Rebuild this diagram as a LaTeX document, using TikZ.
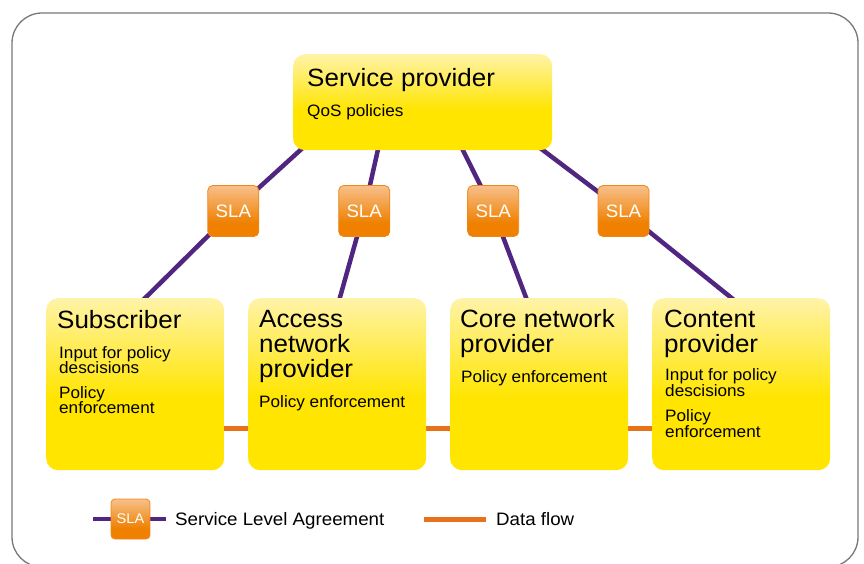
\documentclass[tikz,border=0pt]{standalone}
\usepackage{fontspec}
\setmainfont[FakeStretch=1.04]{Liberation Sans}
\usetikzlibrary{calc,backgrounds}

\definecolor{yelfull}{RGB}{255,229,0}
\definecolor{yelpale}{RGB}{255,243,168}
\definecolor{slatop}{RGB}{247,192,138}
\definecolor{slabot}{RGB}{239,128,0}
\definecolor{slaedge}{RGB}{238,135,30}
\definecolor{slaline}{RGB}{80,38,128}
\definecolor{flowline}{RGB}{232,114,26}
\definecolor{framegray}{RGB}{120,120,120}

% vertical fills: full colour at the bottom, paler towards the top
\pgfdeclareverticalshading{yelshade}{100bp}{color(0bp)=(yelfull); color(46bp)=(yelfull); color(75bp)=(yelpale); color(100bp)=(yelpale)}
\pgfdeclareverticalshading{orashade}{100bp}{color(0bp)=(slabot); color(38bp)=(slabot); color(75bp)=(slatop); color(100bp)=(slatop)}

\tikzset{
  panel/.style={shade, shading=yelshade, rounded corners=12pt, inner sep=0pt, anchor=north west},
  slabox/.style={shade, shading=orashade, draw=slaedge, line width=0.8pt, rounded corners=5pt,
    inner sep=0pt, minimum width=51pt, minimum height=51pt, text=white,
    font=\fontsize{18}{18}\selectfont},
  slalink/.style={draw=slaline, line width=4.5pt},
  flow/.style={draw=flowline, line width=5pt},
  titletxt/.style={anchor=base west, inner sep=0pt, font=\fontsize{25}{25}\selectfont},
  bodytxt/.style={anchor=base west, inner sep=0pt, font=\fontsize{16.5}{16.5}\selectfont},
  legendtxt/.style={anchor=base west, inner sep=0pt, font=\fontsize{18}{18}\selectfont},
}

\begin{document}
\begin{tikzpicture}[x=1pt,y=-1pt]
\useasboundingbox (0,0) rectangle (864,563);

% boxes
\node[panel, minimum width=259pt, minimum height=96pt]  (sp)   at (293,54)  {};
\node[panel, minimum width=178pt, minimum height=172pt] (sub)  at (46,298)  {};
\node[panel, minimum width=178pt, minimum height=172pt] (acc)  at (248,298) {};
\node[panel, minimum width=178pt, minimum height=172pt] (core) at (450,298) {};
\node[panel, minimum width=178pt, minimum height=172pt] (cont) at (652,298) {};

% agreements
\node[slabox] (sla1) at (233.3,211) {SLA};
\node[slabox] (sla2) at (364.2,211) {SLA};
\node[slabox] (sla3) at (493.2,211) {SLA};
\node[slabox] (sla4) at (623.5,211) {SLA};

% link ends, tucked inside the boxes
\coordinate (sp-a) at ($(sp.south west)+(18,-10)$);
\coordinate (sp-b) at ($(sp.south west)+(87,-10)$);
\coordinate (sp-c) at ($(sp.south west)+(165,-10)$);
\coordinate (sp-d) at ($(sp.south west)+(237,-10)$);
\coordinate (sub-a)  at ($(sub.north west)+(89,10)$);
\coordinate (acc-a)  at ($(acc.north west)+(89,10)$);
\coordinate (core-a) at ($(core.north west)+(80,10)$);
\coordinate (cont-a) at ($(cont.north west)+(92,10)$);

% legend
\node[slabox, minimum width=39pt, minimum height=40pt, rounded corners=4pt,
  font=\fontsize{14}{14}\selectfont] (slaleg) at (130.5,519) {SLA};
\coordinate (leg-a) at (93,519);
\coordinate (leg-b) at (166,519);
\coordinate (leg-c) at (424,519);
\coordinate (leg-d) at (486,519);
\node[legendtxt] (leg-sla-txt)  at (175,525.5) {Service Level Agreement};
\node[legendtxt] (leg-flow-txt) at (496,525.5) {Data flow};

\begin{pgfonlayer}{background}
  \draw[framegray, line width=1.3pt, rounded corners=30pt] (12,13) rectangle (858,567);
  \draw[slalink] (sp-a) -- (sla1.center) -- (sub-a);
  \draw[slalink] (sp-b) -- (sla2.center) -- (acc-a);
  \draw[slalink] (sp-c) -- (sla3.center) -- (core-a);
  \draw[slalink] (sp-d) -- (sla4.center) -- (cont-a);
  \draw[flow] ($(sub.east)+(0,44)$)  -- ($(acc.west)+(0,44)$);
  \draw[flow] ($(acc.east)+(0,44)$)  -- ($(core.west)+(0,44)$);
  \draw[flow] ($(core.east)+(0,44)$) -- ($(cont.west)+(0,44)$);
  \draw[slalink] (leg-a) -- (leg-b);
  \draw[flow] (leg-c) -- (leg-d);
\end{pgfonlayer}

% texts
\node[titletxt] (sp-t) at ($(sp.north west)+(14,32)$) {Service provider};
\node[bodytxt]  (sp-l) at ($(sp.north west)+(14,62)$) {QoS policies};

\node[titletxt] (sub-t) at ($(sub.north west)+(11,30)$) {Subscriber};
\foreach \txt/\dy [count=\i] in {Input for policy/60.3, descisions/75.3, Policy/100.3, enforcement/115.3}
  \node[bodytxt] (sub-l\i) at ($(sub.north west)+(13,\dy)$) {\txt};

\foreach \txt/\dy [count=\i] in {Access/29, network/54, provider/79}
  \node[titletxt] (acc-t\i) at ($(acc.north west)+(11,\dy)$) {\txt};
\node[bodytxt] (acc-l) at ($(acc.north west)+(11,109)$) {Policy enforcement};

\foreach \txt/\dy [count=\i] in {Core network/29, provider/54}
  \node[titletxt] (core-t\i) at ($(core.north west)+(10,\dy)$) {\txt};
\node[bodytxt] (core-l) at ($(core.north west)+(11,84)$) {Policy enforcement};

\foreach \txt/\dy [count=\i] in {Content/29, provider/54}
  \node[titletxt] (cont-t\i) at ($(cont.north west)+(12,\dy)$) {\txt};
\foreach \txt/\dy [count=\i] in {Input for policy/82, descisions/98, Policy/123, enforcement/139}
  \node[bodytxt] (cont-l\i) at ($(cont.north west)+(13,\dy)$) {\txt};
\end{tikzpicture}
\end{document}
